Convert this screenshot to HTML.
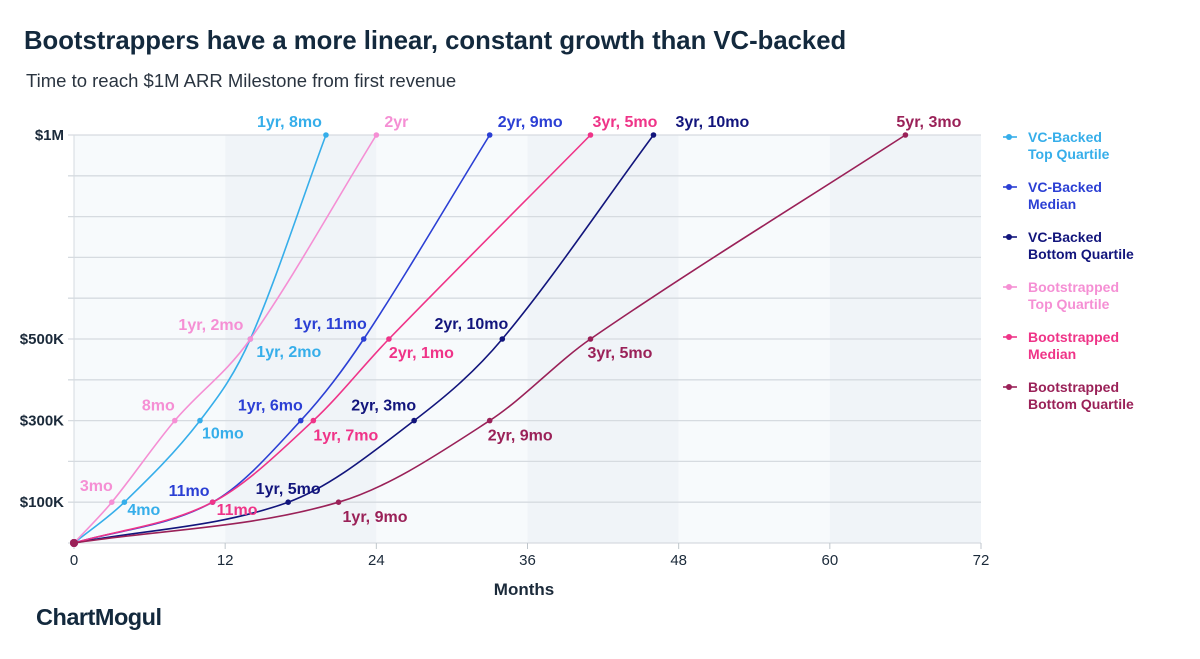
<!DOCTYPE html>
<html><head><meta charset="utf-8"><style>
body{margin:0;background:#fff;font-family:"Liberation Sans",sans-serif;}
</style></head><body>
<svg width="1200" height="654" viewBox="0 0 1200 654" xmlns="http://www.w3.org/2000/svg" font-family="Liberation Sans, sans-serif">
<text x="24" y="49" font-size="25.7" font-weight="bold" fill="#13293d">Bootstrappers have a more linear, constant growth than VC-backed</text>
<text x="26" y="87" font-size="18.5" fill="#2a3440">Time to reach $1M ARR Milestone from first revenue</text>
<g id="bands"></g><g id="grid"></g><g id="axes"></g><g id="lines"></g><g id="labels"></g><g id="legend"></g>
<text x="524" y="595" font-size="17" font-weight="bold" fill="#1b2a3a" text-anchor="middle">Months</text>
<text x="36" y="625" font-size="23.5" font-weight="bold" fill="#13293d" letter-spacing="-0.5">ChartMogul</text>
</svg>
<script>
const xTicks=[0,12,24,36,48,60,72];
const yGrid=[0,100,200,300,400,500,600,700,800,900,1000];
const yTickVals=[100,300,500,1000];
const yTickLabels=["$100K","$300K","$500K","$1M"];
const seriesNames=["VC-Backed Top Quartile","VC-Backed Median","VC-Backed Bottom Quartile","Bootstrapped Top Quartile","Bootstrapped Median","Bootstrapped Bottom Quartile"];
const vcTopMonths=[0,4,10,14,20];       const vcTopValues=[0,100,300,500,1000];
const vcMedMonths=[0,11,18,23,33];      const vcMedValues=[0,100,300,500,1000];
const vcBotMonths=[0,17,27,34,46];      const vcBotValues=[0,100,300,500,1000];
const bsTopMonths=[0,3,8,14,24];        const bsTopValues=[0,100,300,500,1000];
const bsMedMonths=[0,11,19,25,41];      const bsMedValues=[0,100,300,500,1000];
const bsBotMonths=[0,21,33,41,66];      const bsBotValues=[0,100,300,500,1000];
const vcTopLabels=["","4mo","10mo","1yr, 2mo","1yr, 8mo"];
const vcMedLabels=["","11mo","1yr, 6mo","1yr, 11mo","2yr, 9mo"];
const vcBotLabels=["","1yr, 5mo","2yr, 3mo","2yr, 10mo","3yr, 10mo"];
const bsTopLabels=["","3mo","8mo","1yr, 2mo","2yr"];
const bsMedLabels=["","11mo","1yr, 7mo","2yr, 1mo","3yr, 5mo"];
const bsBotLabels=["","1yr, 9mo","2yr, 9mo","3yr, 5mo","5yr, 3mo"];

const X0=74,X1=981,Y0=543,Y1=135;
const x=m=>X0+(m/72)*(X1-X0);
const y=v=>Y0-(v/1000)*(Y0-Y1);
const NS="http://www.w3.org/2000/svg";
function mk(tag,attrs,parent){const e=document.createElementNS(NS,tag);for(const k in attrs)e.setAttribute(k,attrs[k]);document.getElementById(parent).appendChild(e);return e;}

for(let i=0;i<xTicks.length-1;i++){
 const r=mk('rect',{x:x(xTicks[i]),y:Y1,width:x(xTicks[i+1])-x(xTicks[i]),height:Y0-Y1,fill:i%2?'#f0f4f8':'#f7fafc'},'bands');
 
 
}
yGrid.forEach(v=>{
 const l=mk('line',{x1:X0-6,x2:X1,y1:y(v),y2:y(v),stroke:'#d6dbe0','stroke-width':1.3},'grid');
 
 
});
xTicks.forEach(t=>{
 const l=mk('line',{x1:x(t),x2:x(t),y1:Y0,y2:Y0+6,stroke:'#bfc6cc'},'axes');
 
 
 const tx=mk('text',{x:x(t),y:Y0+22,'font-size':15,fill:'#1b2a3a','text-anchor':'middle'},'axes');
 tx.textContent=t;
 
 
});
mk('line',{x1:X0,x2:X0,y1:Y1,y2:Y0,stroke:'#d6dbe0'},'axes');
yTickVals.forEach((v,i)=>{
 const tx=mk('text',{x:64,y:y(v)+5,'font-size':15,'font-weight':'bold',fill:'#1b2a3a','text-anchor':'end'},'axes');
 tx.textContent=yTickLabels[i];
 
 
});

const colors=['#36aeea','#2b3fd4','#12157c','#f58fd4','#ef3488','#9a2158'];
const series=[[vcTopMonths,vcTopValues,vcTopLabels],[vcMedMonths,vcMedValues,vcMedLabels],[vcBotMonths,vcBotValues,vcBotLabels],[bsTopMonths,bsTopValues,bsTopLabels],[bsMedMonths,bsMedValues,bsMedLabels],[bsBotMonths,bsBotValues,bsBotLabels]];
const place=[
 [null,[3,13,'start'],[2,18,'start'],[6,18,'start'],[-4,-8,'end']],
 [null,[-3,-6,'end'],[2,-10,'end'],[3,-10,'end'],[8,-8,'start']],
 [null,[0,-8,'middle'],[2,-10,'end'],[6,-10,'end'],[22,-8,'start']],
 [null,[1,-11,'end'],[0,-10,'end'],[-7,-9,'end'],[8,-8,'start']],
 [null,[4,13,'start'],[0,20,'start'],[0,19,'start'],[2,-8,'start']],
 [null,[4,20,'start'],[-2,20,'start'],[-3,19,'start'],[-9,-8,'start']]
];
function hermPath(px,py){
 const n=px.length,m=[];
 for(let i=0;i<n;i++){
  const a=Math.max(0,i-1),b=Math.min(n-1,i+1);
  m[i]=(py[b]-py[a])/(px[b]-px[a]);
 }
 let s=`M${px[0]},${py[0]}`;
 for(let i=0;i<n-1;i++){const h=(px[i+1]-px[i])/3;
  s+=` C${px[i]+h},${py[i]+m[i]*h} ${px[i+1]-h},${py[i+1]-m[i+1]*h} ${px[i+1]},${py[i+1]}`;}
 return s;
}
series.forEach((s,si)=>{
 const px=s[0].map(x),py=s[1].map(y);
 const p=mk('path',{d:hermPath(px,py),fill:'none',stroke:colors[si],'stroke-width':1.6},'lines');
 
 
 px.forEach((X,i)=>{
  const c=mk('circle',{cx:X,cy:py[i],r:i==0?4:2.8,fill:colors[si]},'lines');
  
  
  if(s[2][i]){const pl=place[si][i];
   const t=mk('text',{x:X+pl[0],y:py[i]+pl[1],'font-size':16,'font-weight':'bold',fill:colors[si],'text-anchor':pl[2]},'labels');
   t.textContent=s[2][i];
   
   
  }
 });
});
seriesNames.forEach((nm,i)=>{
 const yy=137+i*50;
 const l=mk('line',{x1:1003,x2:1017,y1:yy,y2:yy,stroke:colors[i],'stroke-width':1.6},'legend');
 
 
 const c=mk('circle',{cx:1009,cy:yy,r:3,fill:colors[i]},'legend');
 
 
 const parts=nm.startsWith('VC')?['VC-Backed',nm.slice(10)]:['Bootstrapped',nm.slice(13)];
 const t=mk('text',{x:1028,y:yy+5,'font-size':14,'font-weight':'bold',fill:colors[i]},'legend');
 
 
 parts.forEach((pt,k)=>{const ts=document.createElementNS(NS,'tspan');ts.setAttribute('x',1028);ts.setAttribute('dy',k?17:0);ts.textContent=pt;t.appendChild(ts);});
});
</script>
</body></html>
